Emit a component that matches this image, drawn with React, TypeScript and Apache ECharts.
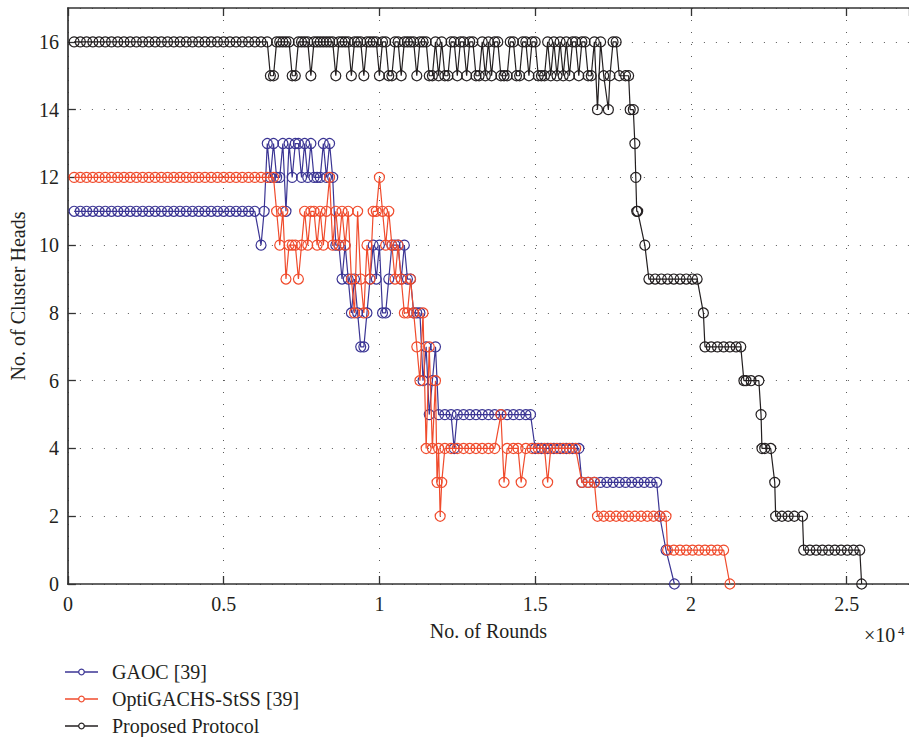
import React, { useEffect, useRef } from "react";
import * as echarts from "echarts";

// ---------------- DATA ----------------
const SERIES_NAMES = ["GAOC [39]", "OptiGACHS-StSS [39]", "Proposed Protocol"];
const X_TICKS = [0, 5000, 10000, 15000, 20000, 25000];
const Y_TICKS = [0, 2, 4, 6, 8, 10, 12, 14, 16];

// GAOC [39]
const GAOC_ROUNDS = [
  200, 400, 600, 800, 1000, 1200, 1400, 1600, 1800, 2000,
  2200, 2400, 2600, 2800, 3000, 3200, 3400, 3600, 3800, 4000,
  4200, 4400, 4600, 4800, 5000, 5200, 5400, 5600, 5800, 6000,
  6200, 6300, 6400, 6500, 6600, 6700, 6800, 6900, 7000, 7100,
  7200, 7300, 7400, 7500, 7600, 7700, 7800, 7900, 8000, 8100,
  8200, 8300, 8400, 8500, 8600, 8700, 8800, 8900, 9000, 9100,
  9200, 9300, 9400, 9500, 9600, 9700, 9800, 9900, 10000, 10100,
  10200, 10300, 10400, 10500, 10600, 10700, 10800, 10900, 11000, 11100,
  11200, 11300, 11400, 11500, 11600, 11700, 11800, 11900, 12100, 12300,
  12400, 12500, 12700, 12900, 13100, 13300, 13500, 13700, 13900, 14100,
  14300, 14500, 14700, 14850, 15000, 15200, 15400, 15600, 15800, 16000,
  16200, 16400, 16500, 16700, 16900, 17100, 17300, 17500, 17700, 17900,
  18100, 18300, 18500, 18700, 18900, 19000, 19200, 19470,
];
const GAOC_VALUES = [
  11, 11, 11, 11, 11, 11, 11, 11, 11, 11,
  11, 11, 11, 11, 11, 11, 11, 11, 11, 11,
  11, 11, 11, 11, 11, 11, 11, 11, 11, 11,
  10, 11, 13, 12, 13, 12, 12, 13, 11, 13,
  12, 13, 13, 12, 13, 12, 13, 12, 12, 12,
  13, 12, 13, 12, 10, 10, 9, 10, 9, 8,
  9, 8, 7, 7, 8, 9, 10, 9, 10, 8,
  8, 9, 10, 10, 10, 9, 10, 9, 9, 8,
  8, 8, 6, 7, 5, 6, 7, 5, 5, 5,
  4, 5, 5, 5, 5, 5, 5, 5, 5, 5,
  5, 5, 5, 5, 4, 4, 4, 4, 4, 4,
  4, 4, 3, 3, 3, 3, 3, 3, 3, 3,
  3, 3, 3, 3, 3, 2, 1, 0,
];

// OptiGACHS-StSS [39]
const OPTI_ROUNDS = [
  200, 400, 600, 800, 1000, 1200, 1400, 1600, 1800, 2000,
  2200, 2400, 2600, 2800, 3000, 3200, 3400, 3600, 3800, 4000,
  4200, 4400, 4600, 4800, 5000, 5200, 5400, 5600, 5800, 6000,
  6200, 6400, 6600, 6700, 6800, 6900, 7000, 7100, 7200, 7300,
  7400, 7500, 7600, 7700, 7800, 7900, 8000, 8100, 8200, 8300,
  8400, 8500, 8600, 8700, 8800, 8900, 9000, 9100, 9200, 9300,
  9400, 9500, 9600, 9700, 9800, 9900, 10000, 10100, 10200, 10300,
  10400, 10500, 10600, 10700, 10800, 10900, 11000, 11100, 11200, 11300,
  11400, 11500, 11600, 11700, 11800, 11850, 11900, 11950, 12000, 12100,
  12300, 12500, 12700, 12900, 13100, 13300, 13500, 13700, 13900, 14000,
  14100, 14300, 14450, 14550, 14700, 14900, 15100, 15300, 15400, 15500,
  15700, 15900, 16100, 16300, 16500, 16700, 16900, 17000, 17200, 17400,
  17600, 17800, 18000, 18200, 18400, 18600, 18800, 19000, 19200, 19250,
  19450, 19650, 19850, 20050, 20250, 20450, 20650, 20850, 21050, 21250,
];
const OPTI_VALUES = [
  12, 12, 12, 12, 12, 12, 12, 12, 12, 12,
  12, 12, 12, 12, 12, 12, 12, 12, 12, 12,
  12, 12, 12, 12, 12, 12, 12, 12, 12, 12,
  12, 12, 12, 11, 10, 11, 9, 10, 10, 10,
  9, 10, 11, 10, 11, 11, 10, 11, 10, 11,
  12, 10, 11, 10, 11, 10, 11, 9, 8, 11,
  9, 8, 10, 9, 11, 11, 12, 11, 10, 11,
  10, 9, 10, 9, 8, 8, 9, 8, 7, 6,
  8, 4, 7, 4, 6, 3, 4, 2, 3, 4,
  4, 4, 4, 4, 4, 4, 4, 4, 5, 3,
  4, 4, 4, 3, 4, 4, 4, 4, 3, 4,
  4, 4, 4, 4, 3, 3, 3, 2, 2, 2,
  2, 2, 2, 2, 2, 2, 2, 2, 2, 1,
  1, 1, 1, 1, 1, 1, 1, 1, 1, 0,
];

// Proposed Protocol
const PROP_ROUNDS = [
  200, 400, 600, 800, 1000, 1200, 1400, 1600, 1800, 2000,
  2200, 2400, 2600, 2800, 3000, 3200, 3400, 3600, 3800, 4000,
  4200, 4400, 4600, 4800, 5000, 5200, 5400, 5600, 5800, 6000,
  6200, 6400, 6500, 6600, 6700, 6800, 6900, 7000, 7100, 7200,
  7300, 7400, 7500, 7600, 7700, 7800, 7900, 8000, 8100, 8200,
  8300, 8400, 8500, 8600, 8700, 8800, 8900, 9000, 9100, 9200,
  9300, 9400, 9500, 9600, 9700, 9800, 9900, 10000, 10100, 10200,
  10300, 10400, 10500, 10600, 10700, 10800, 10900, 11000, 11100, 11200,
  11300, 11400, 11500, 11600, 11700, 11800, 11900, 12000, 12100, 12200,
  12300, 12400, 12500, 12600, 12700, 12800, 12900, 13000, 13100, 13200,
  13300, 13400, 13500, 13600, 13700, 13800, 13900, 14000, 14100, 14200,
  14300, 14400, 14500, 14600, 14700, 14800, 14900, 15000, 15100, 15200,
  15300, 15400, 15500, 15600, 15700, 15800, 15900, 16000, 16100, 16200,
  16300, 16400, 16500, 16600, 16700, 16800, 16900, 17000, 17100, 17200,
  17350, 17400, 17500, 17600, 17700, 17900, 18000, 18050, 18150, 18200,
  18230, 18260, 18290, 18520, 18650, 18850, 19050, 19250, 19450, 19650,
  19850, 20050, 20200, 20400, 20450, 20650, 20850, 21050, 21250, 21450,
  21600, 21700, 21770, 21930, 22180, 22250, 22280, 22370, 22560, 22690,
  22720, 22920, 23120, 23320, 23580, 23620, 23820, 24020, 24220, 24420,
  24620, 24820, 25020, 25220, 25420, 25480,
];
const PROP_VALUES = [
  16, 16, 16, 16, 16, 16, 16, 16, 16, 16,
  16, 16, 16, 16, 16, 16, 16, 16, 16, 16,
  16, 16, 16, 16, 16, 16, 16, 16, 16, 16,
  16, 16, 15, 15, 16, 16, 16, 16, 16, 15,
  15, 16, 16, 16, 16, 15, 16, 16, 16, 16,
  16, 16, 16, 15, 16, 16, 16, 16, 15, 16,
  16, 16, 15, 16, 16, 16, 16, 15, 16, 16,
  15, 15, 16, 16, 15, 16, 16, 16, 16, 15,
  16, 16, 16, 15, 15, 16, 15, 16, 15, 15,
  16, 16, 15, 16, 16, 15, 16, 16, 15, 15,
  16, 15, 16, 15, 16, 16, 15, 15, 15, 16,
  16, 15, 15, 16, 16, 15, 16, 16, 15, 15,
  15, 16, 15, 16, 15, 16, 15, 16, 15, 16,
  16, 15, 16, 16, 15, 15, 16, 14, 16, 15,
  14, 15, 16, 16, 15, 15, 15, 14, 14, 13,
  12, 11, 11, 10, 9, 9, 9, 9, 9, 9,
  9, 9, 9, 8, 7, 7, 7, 7, 7, 7,
  7, 6, 6, 6, 6, 5, 4, 4, 4, 3,
  2, 2, 2, 2, 2, 1, 1, 1, 1, 1,
  1, 1, 1, 1, 1, 0,
];

const COLORS = ["#3b3594", "#f04b2c", "#231f20"];

const FONT = "'Liberation Serif', 'DejaVu Serif', serif";
const TEXT = "#231f20";

function pairs(rounds: number[], values: number[]) {
  return rounds.map((r, i) => [r, values[i]]);
}

export default function App() {
  const ref = useRef<HTMLDivElement>(null);

  useEffect(() => {
    if (!ref.current) return;
    const chart = echarts.init(ref.current, undefined, { renderer: "svg" });

    const splitLine = {
      show: true,
      lineStyle: { color: "#5a5a5a", width: 1, type: [1, 11] as any },
    };
    const axisLine = { show: true, lineStyle: { color: "#333333", width: 1.7 } };
    const axisTick = { show: true, inside: true, length: 8, lineStyle: { color: "#333333", width: 1.3 } };

    const seriesData = [
      pairs(GAOC_ROUNDS, GAOC_VALUES),
      pairs(OPTI_ROUNDS, OPTI_VALUES),
      pairs(PROP_ROUNDS, PROP_VALUES),
    ];

    const legendY = [672, 699, 726];
    const legendGraphics: any[] = [];
    SERIES_NAMES.forEach((name, i) => {
      legendGraphics.push({
        type: "line",
        shape: { x1: 65, y1: legendY[i], x2: 98, y2: legendY[i] },
        style: { stroke: COLORS[i], lineWidth: 1.3 },
      });
      legendGraphics.push({
        type: "circle",
        shape: { cx: 81.5, cy: legendY[i], r: 2.8 },
        style: { fill: "#ffffff", stroke: COLORS[i], lineWidth: 1.2 },
      });
      legendGraphics.push({
        type: "text",
        x: 112,
        y: legendY[i],
        style: {
          text: name,
          font: `20px ${FONT}`,
          fill: TEXT,
          verticalAlign: "middle",
          align: "left",
        },
      });
    });

    const option: any = {
      animation: false,
      backgroundColor: "#ffffff",
      grid: { left: 64, top: 8, width: 852.7, height: 576, containLabel: false },
      xAxis: [
        {
          type: "value",
          min: 0,
          max: 27000,
          interval: 5000,
          position: "bottom",
          name: "No. of Rounds",
          nameLocation: "middle",
          nameGap: 37,
          nameTextStyle: { fontFamily: FONT, fontSize: 20, color: TEXT },
          axisLine,
          axisTick,
          axisLabel: {
            show: true,
            margin: 10,
            fontFamily: FONT,
            fontSize: 20,
            color: TEXT,
            showMaxLabel: false,
            formatter: (v: number) => (X_TICKS.includes(v) ? String(v / 10000) : ""),
          },
          splitLine,
        },
        {
          type: "value",
          min: 0,
          max: 27000,
          interval: 5000,
          position: "top",
          axisLine,
          axisTick,
          axisLabel: { show: false },
          splitLine: { show: false },
        },
      ],
      yAxis: {
        type: "value",
        min: 0,
        max: 17,
        interval: 2,
        name: "No. of Cluster Heads",
        nameLocation: "middle",
        nameGap: 37,
        nameTextStyle: { fontFamily: FONT, fontSize: 20, color: TEXT },
        axisLine,
        axisTick,
        axisLabel: {
          show: true,
          margin: 9,
          fontFamily: FONT,
          fontSize: 20,
          color: TEXT,
          showMaxLabel: false,
          formatter: (v: number) => (Y_TICKS.includes(v) ? String(v) : ""),
        },
        splitLine,
      },
      series: seriesData.map((d, i) => ({
        type: "line",
        name: SERIES_NAMES[i],
        data: d,
        xAxisIndex: 0,
        symbol: "circle",
        symbolSize: 10,
        showSymbol: true,
        showAllSymbol: true,
        z: 2 + i,
        lineStyle: { color: COLORS[i], width: 1.2 },
        itemStyle: { color: "rgba(255,255,255,0)", borderColor: COLORS[i], borderWidth: 1.2 },
        emphasis: { disabled: true },
        silent: true,
      })),
      graphic: [
        {
          type: "text",
          x: 864,
          y: 635,
          style: { text: "×10", font: `20px ${FONT}`, fill: TEXT, verticalAlign: "middle", align: "left" },
        },
        {
          type: "text",
          x: 898,
          y: 630,
          style: { text: "4", font: `13px ${FONT}`, fill: TEXT, verticalAlign: "middle", align: "left" },
        },
        ...legendGraphics,
      ],
    };

    chart.setOption(option);
    return () => chart.dispose();
  }, []);

  return (
    <div
      ref={ref}
      style={{ position: "fixed", left: 0, top: 0, width: 909, height: 737, background: "#fff" }}
    />
  );
}
